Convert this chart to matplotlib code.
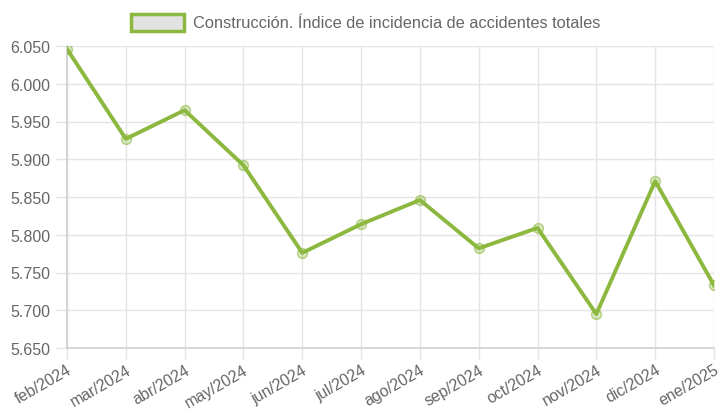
import matplotlib
matplotlib.use("Agg")
import matplotlib.pyplot as plt
from matplotlib.patches import Rectangle

months = ["feb/2024", "mar/2024", "abr/2024", "may/2024", "jun/2024", "jul/2024",
          "ago/2024", "sep/2024", "oct/2024", "nov/2024", "dic/2024", "ene/2025"]
values = [6.046, 5.927, 5.965, 5.892, 5.776, 5.814, 5.846, 5.782, 5.809, 5.695, 5.871, 5.733]
y_ticks = [5.650, 5.700, 5.750, 5.800, 5.850, 5.900, 5.950, 6.000, 6.050]
y_labels = ["5.650", "5.700", "5.750", "5.800", "5.850", "5.900", "5.950", "6.000", "6.050"]
series_label = "Construcción. Índice de incidencia de accidentes totales"

plt.rcParams['font.family'] = ['Liberation Sans', 'DejaVu Sans']

green = "#8cb83f"
text_col = "#666666"
grid_col = "#e4e4e4"

fig = plt.figure(figsize=(7.23, 4.14), dpi=100)
ax = fig.add_axes([67/723, 1-349/414, (714-67)/723, (349-47)/414])

x = list(range(len(months)))
ax.plot(x, values, color=green, lw=2.8, zorder=3, solid_joinstyle='round')
ax.plot(x, values, ls='none', marker='o', ms=7, mfc=(0.55, 0.72, 0.25, 0.3),
        mec=(0.55, 0.72, 0.25, 0.6), mew=1.1, zorder=4)

ax.set_xlim(0, len(months)-1)
ax.set_ylim(5.650, 6.050)
ax.set_yticks(y_ticks)
ax.set_yticklabels(y_labels)
ax.set_xticks(x)
ax.set_xticklabels(months, rotation=30, ha='right', rotation_mode='anchor')

ax.grid(True, color=grid_col, lw=1)
ax.set_axisbelow(True)
for s in ['top', 'right']:
    ax.spines[s].set_visible(False)
for s in ['left', 'bottom']:
    ax.spines[s].set_color("#d0d0d0")
    ax.spines[s].set_linewidth(1.2)
ax.tick_params(axis='both', colors=grid_col, length=8, width=1,
               labelcolor=text_col, labelsize=11.5)
ax.tick_params(axis='y', pad=4)
ax.tick_params(axis='x', pad=2)

# legend
fig.patches.append(Rectangle((131/723, 1-32/414), 53/723, 17/414, transform=fig.transFigure,
                             facecolor="#e2e2e2", edgecolor=green, lw=2.5))
fig.text(193/723, 1-24/414, series_label, color=text_col, fontsize=11.8, va='center', ha='left')

fig.savefig("out.png", dpi=100)
